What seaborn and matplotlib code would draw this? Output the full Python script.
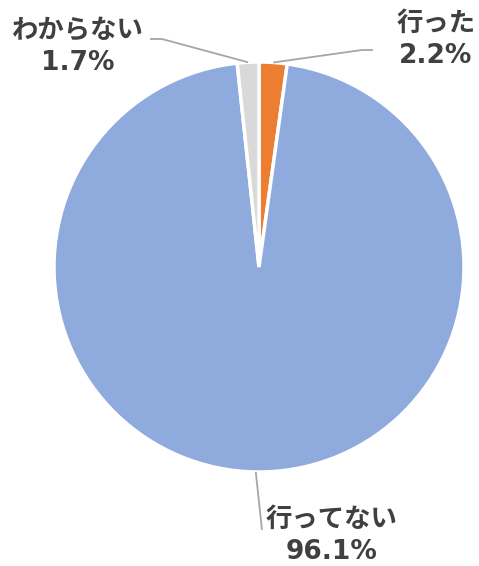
import numpy as np
import matplotlib.pyplot as plt
import seaborn as sns

# data
labels = ["行った", "行ってない", "わからない"]
values = [2.2, 96.1, 1.7]
colors = ["#ED7D31", "#8FAADC", "#D9D9D9"]

sns.set_theme(style="white")
plt.rcParams['font.family'] = ['DejaVu Sans', 'Noto Sans CJK JP']

W, H = 479, 566
fig = plt.figure(figsize=(W / 100, H / 100), dpi=100)
ax = fig.add_axes([0, 0, 1, 1])

cx, cy, r = 259, H - 267, 205
wedges, _ = ax.pie(values, colors=colors, startangle=90, counterclock=False,
                   center=(cx, cy), radius=r, frame=True,
                   wedgeprops=dict(edgecolor="white", linewidth=2.5))
ax.set_xlim(0, W)
ax.set_ylim(0, H)
ax.set_aspect("equal")
ax.axis("off")

# label layout: (knee point, end point, text position) in pixel coords (top-left origin)
layout = {
    "行った": [(362, 50), (373, 50), (436, 40)],
    "行ってない": [(262, 530), (262, 530), (332, 536)],
    "わからない": [(162, 39), (150, 39), (78, 47)],
}
text_color = "#404040"
line_color = "#A6A6A6"
for w, lab, v in zip(wedges, labels, values):
    ang = np.deg2rad((w.theta1 + w.theta2) / 2)
    sx, sy = cx + r * np.cos(ang), cy + r * np.sin(ang)
    (kx, ky), (ex, ey), (tx, ty) = layout[lab]
    ax.plot([sx, kx, ex], [sy, H - ky, H - ey], color=line_color, lw=1.3,
            solid_capstyle="butt")
    ax.text(tx, H - ty, f"{lab}\n{v:.1f}%", ha="center", va="center",
            fontsize=19, fontweight="bold", color=text_color, linespacing=1.3)

fig.savefig("out.png", dpi=100)
